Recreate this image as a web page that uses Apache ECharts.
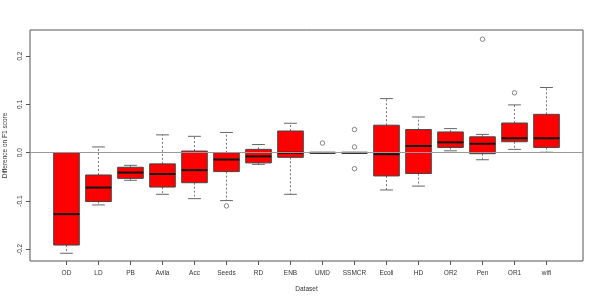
<!DOCTYPE html>
<html>
<head>
<meta charset="utf-8">
<script src="https://cdn.jsdelivr.net/npm/echarts@6/dist/echarts.min.js"></script>
<style>html,body{margin:0;padding:0;background:#fff}#c{width:599px;height:300px}</style>
</head>
<body>
<div id="c"></div>
<script>
var categories = ['OD','LD','PB','Avila','Acc','Seeds','RD','ENB','UMD','SSMCR','Ecoli','HD','OR2','Pen','OR1','wifi'];
var lowerWhisker = [-0.208,-0.108,-0.057,-0.086,-0.095,-0.099,-0.024,-0.086,0,0,-0.077,-0.069,0.004,-0.0145,0.007,0.001];
var q1 =           [-0.191,-0.101,-0.053,-0.071,-0.062,-0.039,-0.021,-0.0095,0,0,-0.048,-0.043,0.011,-0.002,0.0228,0.011];
var median =       [-0.127,-0.072,-0.041,-0.044,-0.036,-0.014,-0.0075,0.0,0,0,-0.003,0.014,0.0215,0.0186,0.030,0.030];
var q3 =           [0.0,-0.046,-0.030,-0.023,0.0035,0.0,0.007,0.045,0,0,0.057,0.048,0.043,0.033,0.0615,0.0795];
var upperWhisker = [0.0,0.012,-0.026,0.037,0.034,0.042,0.017,0.061,0,0,0.112,0.074,0.050,0.038,0.099,0.135];
var outlierCat =   ['Seeds','UMD','SSMCR','SSMCR','SSMCR','Pen','OR1'];
var outlierVal =   [-0.110,0.020,0.048,0.012,-0.033,0.235,0.124];
var yTicks = [-0.2,-0.1,0,0.1,0.2];

var boxData = categories.map(function(c,i){return [i,lowerWhisker[i],q1[i],median[i],q3[i],upperWhisker[i]];});
var outData = outlierCat.map(function(c,i){return [categories.indexOf(c), outlierVal[i]];});
var catIdx = categories.map(function(c,i){return i;});

var chart = echarts.init(document.getElementById('c'), null, {renderer:'canvas'});
var font = 'Liberation Sans, Arial, sans-serif';
chart.setOption({
  animation:false,
  grid:{left:30,right:16,top:30,bottom:39,show:true,borderColor:'#555',borderWidth:1,backgroundColor:'transparent',
        containLabel:false,outerBoundsMode:'none'},
  xAxis:{type:'value',min:-1.14,max:16.14,
    axisLine:{show:false,onZero:false},splitLine:{show:false},
    axisTick:{show:true,customValues:catIdx,length:4,lineStyle:{color:'#555'}},
    axisLabel:{show:true,customValues:catIdx,margin:9,fontSize:6.5,color:'#333',fontFamily:font,
      formatter:function(v){return categories[Math.round(v)];}},
    name:'Dataset',nameLocation:'middle',nameGap:25,nameTextStyle:{fontSize:6.5,color:'#333',fontFamily:font}
  },
  yAxis:{type:'value',min:-0.224,max:0.254,
    axisLine:{show:false,onZero:false},splitLine:{show:false},
    axisTick:{show:true,customValues:yTicks,length:4,lineStyle:{color:'#555'}},
    axisLabel:{show:true,customValues:yTicks,rotate:90,margin:6,fontSize:6.5,color:'#333',fontFamily:font,
      formatter:function(v){return v.toFixed(1);}},
    name:'Difference on F1 score',nameLocation:'middle',nameGap:11,nameRotate:90,
    nameTextStyle:{fontSize:6.5,color:'#333',fontFamily:font}
  },
  series:[
    {type:'custom',data:boxData,z:2,
     renderItem:function(params,api){
       var x=api.value(0);
       var w=api.size([0.8,0])[0], cw=api.size([0.4,0])[0];
       var lo=api.coord([x,api.value(1)]), b=api.coord([x,api.value(2)]), m=api.coord([x,api.value(3)]),
           t=api.coord([x,api.value(4)]), hi=api.coord([x,api.value(5)]);
       var cx=lo[0];
       var ch=[];
       ch.push({type:'line',shape:{x1:cx,y1:t[1],x2:cx,y2:hi[1]},style:{stroke:'#777',lineWidth:1,lineDash:[2,2]}});
       ch.push({type:'line',shape:{x1:cx,y1:b[1],x2:cx,y2:lo[1]},style:{stroke:'#777',lineWidth:1,lineDash:[2,2]}});
       ch.push({type:'line',shape:{x1:cx-cw/2,y1:hi[1],x2:cx+cw/2,y2:hi[1]},style:{stroke:'#666',lineWidth:1}});
       ch.push({type:'line',shape:{x1:cx-cw/2,y1:lo[1],x2:cx+cw/2,y2:lo[1]},style:{stroke:'#666',lineWidth:1}});
       ch.push({type:'rect',shape:{x:cx-w/2,y:t[1],width:w,height:b[1]-t[1]},style:{fill:'#ff0000',stroke:'#444',lineWidth:1}});
       ch.push({type:'line',shape:{x1:cx-w/2,y1:m[1],x2:cx+w/2,y2:m[1]},style:{stroke:'#111',lineWidth:2}});
       return {type:'group',children:ch};
     },
     markLine:{silent:true,symbol:'none',label:{show:false},z:5,
       lineStyle:{color:'#999',width:1,type:'solid'},data:[{yAxis:0}]}
    },
    {type:'scatter',data:outData,symbol:'circle',symbolSize:4.5,z:3,
     itemStyle:{color:'transparent',borderColor:'#444',borderWidth:0.8}}
  ]
});
</script>
</body>
</html>
